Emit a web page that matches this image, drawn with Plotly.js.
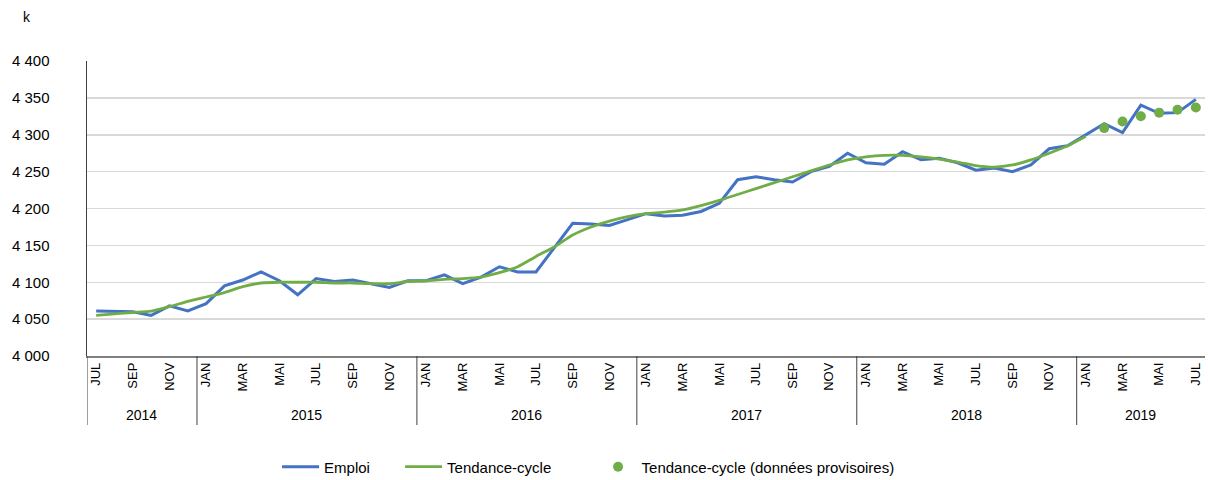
<!DOCTYPE html>
<html>
<head>
<meta charset="utf-8">
<script src="https://cdn.plot.ly/plotly-3.0.1.min.js"></script>
<style>html,body{margin:0;padding:0;background:#fff;}#chart{width:1208px;height:480px;}</style>
</head>
<body>
<div id="chart"></div>
<script>
// Months JUL 2014 .. JUL 2019
const months = [
  '2014-07','2014-08','2014-09','2014-10','2014-11','2014-12',
  '2015-01','2015-02','2015-03','2015-04','2015-05','2015-06','2015-07','2015-08','2015-09','2015-10','2015-11','2015-12',
  '2016-01','2016-02','2016-03','2016-04','2016-05','2016-06','2016-07','2016-08','2016-09','2016-10','2016-11','2016-12',
  '2017-01','2017-02','2017-03','2017-04','2017-05','2017-06','2017-07','2017-08','2017-09','2017-10','2017-11','2017-12',
  '2018-01','2018-02','2018-03','2018-04','2018-05','2018-06','2018-07','2018-08','2018-09','2018-10','2018-11','2018-12',
  '2019-01','2019-02','2019-03','2019-04','2019-05','2019-06','2019-07'
];
// tick labels every two months starting at JUL 2014
const tickLabels = [
  'JUL','SEP','NOV',
  'JAN','MAR','MAI','JUL','SEP','NOV',
  'JAN','MAR','MAI','JUL','SEP','NOV',
  'JAN','MAR','MAI','JUL','SEP','NOV',
  'JAN','MAR','MAI','JUL','SEP','NOV',
  'JAN','MAR','MAI','JUL'
];
const years = ['2014','2015','2016','2017','2018','2019'];

// Emploi (k)
const emploi = [
  4061,4061,4060,4055,4068,4061,
  4071,4095,4103,4114,4102,4083,4105,4101,4103,4098,4093,4102,
  4102,4110,4098,4107,4121,4114,4114,4147,4180,4179,4177,4185,
  4193,4190,4191,4196,4207,4239,4243,4239,4236,4250,4257,4275,
  4262,4260,4277,4266,4268,4262,4252,4255,4250,4259,4281,4285,
  4300,4315,4303,4340,4329,4330,4348
];
// Tendance-cycle (k), JUL 2014 .. JAN 2019
const tendance = [
  4055,4057,4059,4061,4067,4074,
  4080,4086,4094,4099,4100,4100,4100,4099,4099,4098,4098,4101,
  4102,4104,4105,4107,4113,4121,4135,4148,4164,4175,4183,4189,
  4193,4195,4198,4204,4211,4219,4227,4235,4243,4251,4259,4266,
  4270,4272,4272,4270,4267,4263,4258,4256,4259,4266,4275,4285,
  4298
];
// Tendance-cycle (données provisoires), FEB 2019 .. JUL 2019
const provisoire = [4309,4318,4325,4330,4334,4337];

const BLUE = '#4472C4', GREEN = '#70AD47';
const FONT = 'Liberation Sans, Arial, sans-serif';

const traces = [
  {x: months, y: emploi, type: 'scatter', mode: 'lines', name: 'Emploi',
   line: {color: BLUE, width: 3}, legend: 'legend'},
  {x: months.slice(0, tendance.length), y: tendance, type: 'scatter', mode: 'lines', name: 'Tendance-cycle',
   line: {color: GREEN, width: 2.8, shape: 'spline', smoothing: 0.6}, legend: 'legend2'},
  {x: months.slice(months.length - provisoire.length), y: provisoire, type: 'scatter', mode: 'markers',
   name: 'Tendance-cycle (données provisoires)', marker: {color: GREEN, size: 10}, legend: 'legend3'}
];

// year separators & labels derived from month categories
const shapes = [];
const annotations = [];
let start = 0;
years.forEach((yr, k) => {
  let end = start;
  while (end + 1 < months.length && months[end + 1].slice(0, 4) === yr) end++;
  shapes.push({type: 'line', xref: 'x', yref: 'paper', x0: start - 0.5, x1: start - 0.5, y0: 0, y1: -0.234,
               line: {color: '#404040', width: 1}});
  annotations.push({xref: 'x', yref: 'paper', x: (start + end) / 2, y: -0.2, text: yr, showarrow: false,
                    font: {family: FONT, size: 14, color: '#000'}, yanchor: 'middle'});
  start = end + 1;
});
annotations.push({xref: 'paper', yref: 'paper', x: -0.0537, y: 1.15, text: 'k', showarrow: false,
                  font: {family: FONT, size: 14, color: '#000'}, xanchor: 'center', yanchor: 'middle'});

const tickvals = months.filter((m, i) => i % 2 === 0);

const legBase = {orientation: 'h', yanchor: 'middle', y: -0.376, xanchor: 'left',
                 font: {family: FONT, size: 15, color: '#000'}, bgcolor: 'rgba(0,0,0,0)', itemwidth: 37};

const layout = {
  width: 1208, height: 480,
  margin: {l: 87, r: 3, t: 61, b: 124, autoexpand: false},
  paper_bgcolor: '#fff', plot_bgcolor: '#fff',
  separators: ', ',
  font: {family: FONT, color: '#000'},
  showlegend: true,
  legend: Object.assign({}, legBase, {x: 0.170}),
  legend2: Object.assign({}, legBase, {x: 0.280}),
  legend3: Object.assign({}, legBase, {x: 0.454}),
  xaxis: {
    type: 'category', categoryorder: 'array', categoryarray: months,
    range: [-0.5, months.length - 0.5], automargin: false,
    tickmode: 'array', tickvals: tickvals, ticktext: tickLabels, tickangle: -90,
    tickfont: {family: FONT, size: 13, color: '#000'},
    showgrid: false, zeroline: false, showline: true, linecolor: '#7f7f7f', linewidth: 1.5,
    ticks: '', fixedrange: true
  },
  yaxis: {
    range: [4000, 4400], dtick: 50, tick0: 4000, tickformat: ',d', automargin: false,
    tickfont: {family: FONT, size: 15, color: '#000'},
    showgrid: true, gridcolor: '#d9d9d9', gridwidth: 1.5, zeroline: false,
    showline: true, linecolor: '#404040', linewidth: 1.5, ticks: '', ticklabelstandoff: 33, fixedrange: true
  },
  shapes: shapes,
  annotations: annotations
};

Plotly.newPlot('chart', traces, layout, {displayModeBar: false, staticPlot: true});
</script>
</body>
</html>
